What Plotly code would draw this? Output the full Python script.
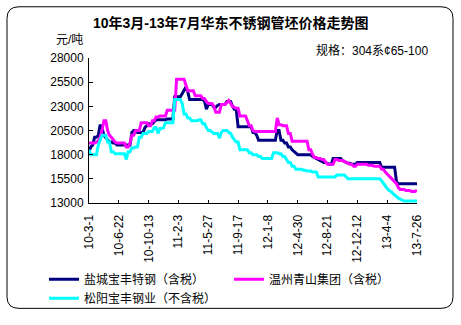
import plotly.graph_objects as go

tick_labels = ["10-3-1", "10-6-22", "10-10-13", "11-2-3", "11-5-27", "11-9-17",
               "12-1-8", "12-4-30", "12-8-21", "12-12-12", "13-4-4", "13-7-26"]

yancheng = [
    18300, 18800, 19000, 19800, 19800, 20000, 21100, 20800, 20000, 19800, 19500, 19300, 19300, 19200, 19200, 19000,
    19000, 19000, 19000, 19000, 19000, 19000, 19000, 20300, 20500, 20500, 20300, 20300, 20300, 20300, 20800, 21000,
    21200, 21200, 21200, 21400, 21600, 21600, 21600, 21600, 21600, 21600, 21700, 21700, 21700, 21700, 24000, 24000,
    24000, 24000, 24300, 24700, 25000, 24500, 23700, 23700, 23700, 23700, 23700, 23700, 23700, 23700, 23500, 22700,
    23200, 23200, 23200, 22900, 22900, 23100, 23200, 23200, 23200, 23200, 23500, 23500, 23500, 23000, 22700, 22700,
    20900, 20900, 20900, 20900, 20900, 20900, 20900, 20900, 20300, 20300, 20000, 19500, 19500, 19500, 19500, 19500,
    19500, 19500, 19500, 19500, 19500, 20500, 20500, 19500, 19500, 19200, 19200, 18800, 18800, 18500, 18300, 18200,
    18000, 18000, 18000, 18000, 18000, 18000, 18000, 18000, 17800, 17700, 17600, 17500, 17400, 17300, 17200, 17200,
    17100, 17000, 17000, 17600, 17600, 17600, 17600, 17600, 17400, 17300, 17200, 17100, 17100, 17000, 17000, 17000,
    17200, 17200, 17200, 17200, 17200, 17200, 17200, 17200, 17200, 17200, 17200, 17200, 17200, 16700, 16700, 16700,
    16700, 16700, 16700, 16700, 16700, 15200, 15000, 15000, 15000, 15000, 15000, 15000, 15000, 15000, 15000, 15000,
    15000,
]

wenzhou = [
    19200, 19200, 19200, 19200, 19300, 19400, 19800, 20500, 21500, 21500, 20500, 20000, 19800, 19500, 19300, 19200,
    19200, 19200, 19200, 19200, 18800, 18800, 19200, 20000, 20000, 20500, 20500, 20500, 21300, 21300, 21300, 21300,
    21000, 21000, 21500, 21500, 21900, 21900, 22000, 22000, 22000, 22000, 22600, 22600, 22600, 22600, 22600, 25800,
    25800, 25800, 25800, 25800, 25200, 24600, 24600, 24600, 24600, 24100, 24100, 24100, 24100, 23800, 23800, 23500,
    23300, 23300, 23300, 23000, 22400, 22400, 22400, 23200, 23200, 23200, 23400, 23600, 23300, 23000, 22900, 22800,
    22800, 22000, 22000, 22000, 22000, 21500, 21000, 21000, 20500, 20400, 20400, 20400, 20400, 20400, 20400, 20400,
    20400, 20400, 20400, 20400, 20400, 21800, 21100, 21100, 21000, 21000, 21000, 20200, 20200, 19400, 19400, 19400,
    19400, 19400, 19400, 19400, 19400, 19400, 18500, 18500, 18000, 17700, 17700, 17600, 17600, 17500, 17500, 17300,
    17000, 17000, 17000, 17000, 17500, 17500, 17400, 17400, 17400, 17300, 17200, 17100, 17000, 17000, 16800, 16800,
    17000, 17000, 17000, 17000, 17000, 17000, 16900, 16900, 16900, 16800, 16800, 16800, 16800, 16500, 16500, 16200,
    16000, 15800, 15600, 15400, 15200, 15000, 14600, 14400, 14400, 14400, 14300, 14300, 14300, 14200, 14200, 14200,
    14300,
]

songyang = [
    18500, 18000, 18000, 18000, 18000, 19000, 19500, 20000, 20000, 20000, 19300, 19300, 18300, 18300, 18100, 18100,
    18100, 18100, 18100, 18100, 17500, 18300, 18300, 18700, 18700, 18800, 18800, 19800, 19800, 20200, 20200, 20200,
    20400, 20400, 20400, 20800, 20800, 20200, 20700, 20700, 20800, 21300, 21300, 21300, 21300, 21300, 23700, 23700,
    23700, 23700, 23300, 22200, 22200, 21800, 21800, 21500, 21500, 21500, 21500, 21600, 21600, 21200, 21200, 20800,
    20500, 20500, 20300, 20200, 20200, 20200, 19700, 20300, 20500, 20500, 20500, 20300, 20200, 19800, 19500, 19300,
    19300, 18500, 18500, 18500, 18500, 18500, 18200, 18200, 18000, 18000, 18000, 17800, 17800, 17600, 17600, 17600,
    17600, 17600, 17600, 18200, 18200, 18200, 18100, 18100, 17800, 17800, 17500, 17200, 17200, 16800, 16800, 16500,
    16500, 16500, 16500, 16400, 16400, 16300, 16300, 16300, 16200, 16200, 16200, 15700, 15700, 15700, 15700, 15700,
    15700, 15700, 15700, 15700, 15700, 15900, 15900, 15900, 15900, 15900, 15700, 15500, 15500, 15500, 15500, 15500,
    15500, 15500, 15500, 15500, 15500, 15500, 15500, 15500, 15500, 15500, 15500, 15500, 15500, 15300, 15000, 14800,
    14500, 14300, 14200, 14000, 13800, 13600, 13500, 13400, 13300, 13200, 13200, 13200, 13200, 13200, 13200, 13200,
    13200,
]

series_names = ["盐城宝丰特钢（含税）", "温州青山集团（含税）", "松阳宝丰钢业（不含税）"]
series_colors = ["#000080", "#FF00FF", "#00FFFF"]

W, H = 461, 325
L, R, T, B = 89, 44, 58, 117
PW, PH = W - L - R, H - T - B


def px(x):
    return (x - L) / PW


def py(y):
    return (H - B - y) / PH


CJK = "Liberation Sans, Noto Sans CJK SC, sans-serif"

fig = go.Figure()
for name, vals, col in zip(series_names, [yancheng, wenzhou, songyang], series_colors):
    fig.add_trace(go.Scatter(x=list(range(len(vals))), y=vals, mode="lines", name=name,
                             line=dict(color=col, width=3)))

n = len(yancheng)
tickvals = [i * 16 for i in range(len(tick_labels))]

fig.update_layout(
    width=W, height=H,
    margin=dict(l=L, r=R, t=T, b=B),
    paper_bgcolor="white", plot_bgcolor="white",
    font=dict(family=CJK, size=12, color="black"),
    showlegend=True,
    legend=dict(orientation="h", x=px(44), y=py(272), xanchor="left", yanchor="top",
                font=dict(size=12, family=CJK), entrywidth=140, entrywidthmode="pixels",
                bgcolor="rgba(0,0,0,0)", itemclick=False, tracegroupgap=0),
    xaxis=dict(range=[0, n - 1], tickvals=tickvals, ticktext=tick_labels, tickangle=-90,
               ticks="inside", ticklen=3, tickcolor="black", showline=True, linecolor="black",
               linewidth=1, showgrid=False, zeroline=False, tickfont=dict(size=12),
               ticklabelstandoff=6, fixedrange=True),
    yaxis=dict(range=[13000, 28000], dtick=2500, tick0=13000, ticks="inside", ticklen=4,
               tickcolor="black", showline=True, linecolor="black", linewidth=1,
               showgrid=False, zeroline=False, tickfont=dict(size=12), tickformat="d",
               ticklabelstandoff=2, fixedrange=True),
)

# rounded outer border
x0, x1 = px(7), px(453)
y0, y1 = py(317), py(5)
rx, ry = 12 / PW, 12 / PH
path = (f"M{x0+rx},{y1} L{x1-rx},{y1} Q{x1},{y1} {x1},{y1-ry} L{x1},{y0+ry} "
        f"Q{x1},{y0} {x1-rx},{y0} L{x0+rx},{y0} Q{x0},{y0} {x0},{y0+ry} "
        f"L{x0},{y1-ry} Q{x0},{y1} {x0+rx},{y1} Z")
fig.add_shape(type="path", path=path, xref="paper", yref="paper",
              line=dict(color="black", width=1), layer="below")

fig.add_annotation(text="<b>10年3月-13年7月华东不锈钢管坯价格走势图</b>", x=px(230), y=py(22),
                   xref="paper", yref="paper", showarrow=False, xanchor="center", yanchor="middle",
                   font=dict(size=14, family=CJK))
fig.add_annotation(text="元/吨", x=px(69), y=py(39), xref="paper", yref="paper", showarrow=False,
                   xanchor="center", yanchor="middle", font=dict(size=12, family=CJK))
fig.add_annotation(text="规格：304系¢65-100", x=px(430), y=py(50), xref="paper", yref="paper",
                   showarrow=False, xanchor="right", yanchor="middle", font=dict(size=12, family=CJK))

fig.write_html("out.html")
